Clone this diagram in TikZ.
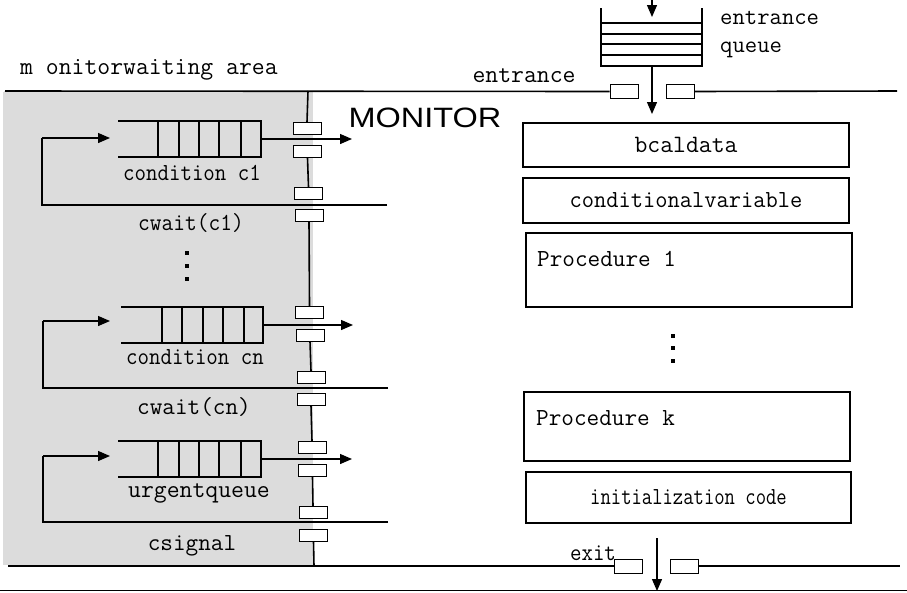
\documentclass[tikz,border=0pt]{standalone}
\usepackage{fontspec}
\newfontfamily\arialf{Liberation Sans}
\usetikzlibrary{arrows.meta}
\definecolor{areagray}{RGB}{220,220,220}
\newcommand{\fsz}[1]{\ttfamily\fontsize{#1}{#1}\selectfont}
\newcommand{\sqz}[2]{\scalebox{#1}[1]{#2}}
\begin{document}
\begin{tikzpicture}[x=1pt,y=-1pt,
  wl/.style={line width=1.6pt},
  thinl/.style={line width=1.3pt},
  gate/.style={draw,fill=white,line width=0.9pt,minimum width=28pt,minimum height=12pt,inner sep=0pt},
  egate/.style={gate,minimum height=14pt},
  arr/.style={line width=1.3pt,-{Triangle[length=12pt,width=10pt]}},
  ql/.style={line width=1.8pt},
  qbox/.style={draw,line width=1.8pt,minimum width=103pt,minimum height=36pt,inner sep=0pt},
  lbl/.style={font=\fsz{24.5},inner sep=0pt},
  box/.style={draw,line width=1.6pt,inner sep=0pt,font=\fsz{24.5}},
  dotsq/.style={fill,minimum size=4pt,inner sep=0pt}]
\useasboundingbox (0,0) rectangle (907,592);
% gray waiting area
\fill[areagray] (3,92) rectangle (313,565);
% wall gates
\node[gate] (r1) at (307,128.5) {};
\node[gate] (r2) at (307.5,151.5) {};
\node[gate] (r3) at (308.5,193.5) {};
\node[gate] (r4) at (309,215) {};
\node[gate] (r5) at (309.5,312.5) {};
\node[gate] (r6) at (310,335) {};
\node[gate] (r7) at (311,377.5) {};
\node[gate] (r8) at (311,399) {};
\node[gate] (r9) at (312,447.5) {};
\node[gate] (r10) at (312.5,470.5) {};
\node[gate] (r11) at (313,512.5) {};
\node[gate] (r12) at (313.5,535) {};
\coordinate (walltop) at (308,91);
\coordinate (wallbot) at (314,566);
\draw[wl] (walltop) -- (r1.north);
\draw[wl] (r2.south) -- (r3.north);
\draw[wl] (r4.south) -- (r5.north);
\draw[wl] (r6.south) -- (r7.north);
\draw[wl] (r8.south) -- (r9.north);
\draw[wl] (r10.south) -- (r11.north);
\draw[wl] (r12.south) -- (wallbot);
% entrance line and gates
\node[egate] (e1) at (624,91.5) {};
\node[egate] (e2) at (680,91.5) {};
\coordinate (topl) at (5,91);
\coordinate (topr) at (897,91);
\draw[wl] (topl) -- (e1.west);
\draw[wl] (e2.east) -- (topr);
% exit line and gates
\node[egate] (x1) at (628,566) {};
\node[egate] (x2) at (684.5,566) {};
\coordinate (botl) at (8,566);
\coordinate (botr) at (900,566);
\draw[wl] (botl) -- (x1.west);
\draw[wl] (x2.east) -- (botr);
\coordinate (edgel) at (0,590.5);
\coordinate (edger) at (907,590.5);
\draw[line width=1.4pt] (edgel) -- (edger);
% entrance queue
\coordinate (eqtl) at (601,8);
\coordinate (eqtr) at (702,8);
\coordinate (eqbl) at (601,66);
\coordinate (eqbr) at (702,66);
\draw[ql] (eqtl) -- (eqbl) -- (eqbr) -- (eqtr);
\foreach \yy in {23,34,44,55} {\draw[ql] (601,\yy) -- (702,\yy);}
\coordinate (eqin) at (652,0);
\coordinate (eqintip) at (652,17);
\draw[arr] (eqin) -- (eqintip);
\coordinate (eqout) at (652,66);
\coordinate (eqouttip) at (652,114);
\draw[arr] (eqout) -- (eqouttip);
% exit arrow
\coordinate (exfrom) at (657,538);
\coordinate (exto) at (657,591);
\draw[arr] (exfrom) -- (exto);
% condition queue 1
\draw[ql] (118,121) -- (158,121) (118,157) -- (158,157);
\node[qbox] (q1) at (209.5,139) {};
\foreach \xx in {179,199,219,241} {\draw[ql] (\xx,121) -- (\xx,157);}
\coordinate (q1out) at (352,139);
\draw[arr] (q1.east) -- (q1out);
\coordinate (q1a) at (387,205);
\coordinate (q1b) at (42,205);
\coordinate (q1c) at (42,138);
\coordinate (q1tip) at (110,138);
\draw[thinl] (q1a) -- (q1b) -- (q1c);
\draw[arr] (q1c) -- (q1tip);
% condition queue n
\draw[ql] (121,307) -- (162,307) (121,343) -- (162,343);
\node[qbox,minimum width=101pt] (q2) at (212.5,325) {};
\foreach \xx in {182,203,223,244} {\draw[ql] (\xx,307) -- (\xx,343);}
\coordinate (q2out) at (353,325);
\draw[arr] (q2.east) -- (q2out);
\coordinate (q2a) at (388,388);
\coordinate (q2b) at (43,388);
\coordinate (q2c) at (43,321);
\coordinate (q2tip) at (110,321);
\draw[thinl] (q2a) -- (q2b) -- (q2c);
\draw[arr] (q2c) -- (q2tip);
% urgent queue
\draw[ql] (118,441) -- (158,441) (118,477) -- (158,477);
\node[qbox] (q3) at (209.5,459) {};
\foreach \xx in {179,199,219,241} {\draw[ql] (\xx,441) -- (\xx,477);}
\coordinate (q3out) at (352,459);
\draw[arr] (q3.east) -- (q3out);
\coordinate (q3a) at (388,522);
\coordinate (q3b) at (43,522);
\coordinate (q3c) at (43,456);
\coordinate (q3tip) at (110,456);
\draw[thinl] (q3a) -- (q3b) -- (q3c);
\draw[arr] (q3c) -- (q3tip);
% left dots
\node[dotsq] (ld1) at (187,253) {};
\node[dotsq] (ld2) at (187,266) {};
\node[dotsq] (ld3) at (187,279) {};
% right boxes
\node[box,minimum width=326pt,minimum height=44pt,font=\fsz{25}] (local) at (686,145) {bcaldata};
\node[box,minimum width=326pt,minimum height=45pt] (condvar) at (686,200.5) {\sqz{0.97}{conditionalvariable}};
\node[box,minimum width=326pt,minimum height=74pt] (proc1) at (689,270) {};
\node[lbl,anchor=west] (proc1t) at (537,259) {Procedure 1};
\node[dotsq] (rd1) at (673,336) {};
\node[dotsq] (rd2) at (673,348) {};
\node[dotsq] (rd3) at (673,361) {};
\node[box,minimum width=326pt,minimum height=69pt] (prock) at (687,426.5) {};
\node[lbl,anchor=west] (prockt) at (536,418) {Procedure k};
\node[box,minimum width=325pt,minimum height=51pt] (init) at (688.5,497.5) {\sqz{0.82}{initialization code}};
% labels
\node[lbl,font=\fsz{25},anchor=west] (mwa) at (20,70) {m onitorwaiting area};
\node[lbl,font=\fsz{25}] (entr) at (524,76) {entrance};
\node[lbl,anchor=west,align=left,font=\ttfamily\fontsize{24}{28}\selectfont] (entq) at (720,35) {entrance\\queue};
\node[font=\arialf\fontsize{28}{30}\selectfont,inner sep=0pt] (mon) at (425,118) {\scalebox{1.16}[1]{MONITOR}};
\node[lbl] (cc1) at (192,173) {\sqz{0.91}{condition c1}};
\node[lbl] (cw1) at (191,223) {\sqz{0.93}{cwait(c1)}};
\node[lbl] (ccn) at (195,357) {\sqz{0.91}{condition cn}};
\node[lbl] (cwn) at (194,407) {cwait(cn)};
\node[lbl,font=\fsz{25}] (urg) at (199,493) {urgentqueue};
\node[lbl] (csig) at (192,546) {csignal};
\node[lbl] (exitl) at (593,553) {\sqz{0.91}{exit}};
\end{tikzpicture}
\end{document}
